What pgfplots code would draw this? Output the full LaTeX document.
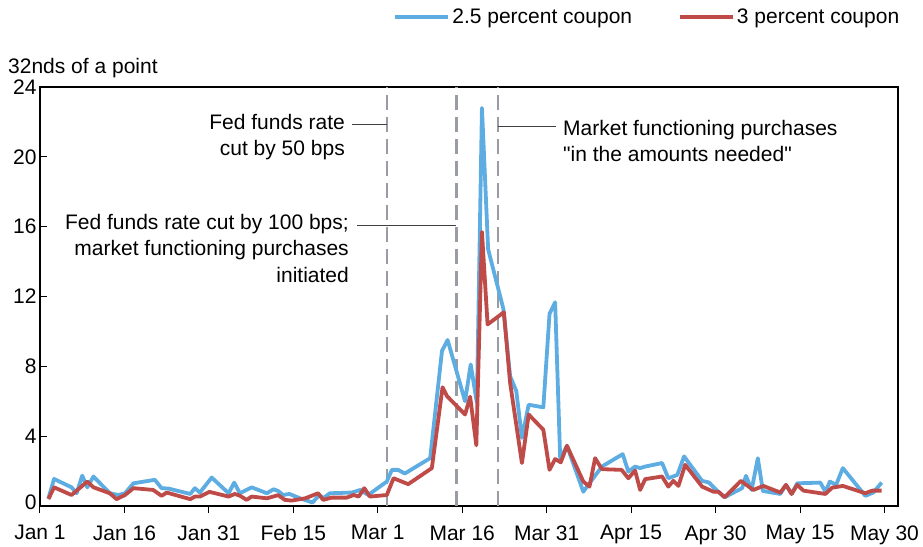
\documentclass[border=0pt]{standalone}
\usepackage{fontspec}
\setmainfont{Liberation Sans}[Ligatures=TeXOff]
\usepackage{pgfplots}
\usepackage{pgfplotstable}
\pgfplotsset{compat=1.18}
\definecolor{cpnblue}{HTML}{5DADE2}
\definecolor{cpnred}{HTML}{BE4B48}
\definecolor{evgray}{HTML}{9A9CA3}
\definecolor{leadgray}{HTML}{404040}

% day = days since Jan 1, v = 32nds of a point
\pgfplotstableread{
d v
1.5 0.44
2.5 1.55
5.6 1.07
6.5 0.73
7.5 1.74
8.4 1.07
9.5 1.69
12.4 0.73
13.9 0.63
15.1 0.73
16.6 1.30
20.4 1.50
21.6 1.02
22.8 1.00
26.7 0.69
27.5 1.02
28.4 0.77
30.5 1.63
33.5 0.73
34.5 1.34
35.5 0.73
37.6 1.07
40.3 0.73
41.5 0.96
42.3 0.86
43.2 0.63
44.3 0.69
46.2 0.44
48.4 0.20
49.6 0.62
50.3 0.45
51.5 0.73
55.4 0.77
56.9 0.92
58.3 0.63
61.6 1.40
62.5 2.07
63.6 2.07
64.8 1.86
69.3 2.74
71.4 8.88
72.4 9.51
75.5 6.00
76.5 8.11
77.6 5.90
78.5 22.80
79.6 14.70
82.3 11.30
83.5 7.44
84.6 6.58
85.6 3.90
86.8 5.80
89.4 5.65
90.5 11.00
91.5 11.67
92.4 2.70
93.6 3.45
96.5 0.82
97.6 1.30
99.8 2.26
103.5 2.97
104.5 1.97
105.7 2.26
106.6 2.17
107.5 2.26
110.5 2.46
111.6 1.59
113.2 1.78
114.4 2.84
117.6 1.44
118.8 1.35
120.2 0.90
121.6 0.50
124.7 1.02
125.4 1.73
126.4 0.92
127.5 2.74
128.4 0.86
131.5 0.69
132.5 1.21
133.5 0.69
134.5 1.30
138.6 1.34
139.5 0.82
140.3 1.40
141.4 1.21
142.6 2.17
146.6 0.58
148.0 0.77
149.5 1.34
}\bluetab

\pgfplotstableread{
d v
1.5 0.40
2.5 1.07
5.6 0.63
8.4 1.40
9.5 1.07
12.4 0.73
13.6 0.39
15.1 0.63
16.6 1.02
20.1 0.92
21.6 0.58
22.5 0.77
26.7 0.39
27.5 0.54
28.4 0.54
30.1 0.81
33.5 0.54
34.6 0.69
35.5 0.59
36.7 0.35
37.6 0.54
40.3 0.44
42.3 0.62
43.5 0.35
44.7 0.31
47.1 0.44
49.4 0.73
50.3 0.35
51.8 0.48
54.5 0.48
55.7 0.63
56.6 0.54
57.6 1.02
58.6 0.54
61.6 0.63
62.8 1.59
65.4 1.25
69.6 2.17
71.5 6.80
72.3 6.29
75.5 5.24
76.4 6.26
77.5 3.48
78.5 15.70
79.5 10.40
82.4 11.10
83.5 7.06
85.6 2.46
86.8 5.24
89.4 4.37
90.5 2.07
91.5 2.69
92.5 2.50
93.6 3.45
96.5 1.40
97.6 1.11
98.6 2.74
99.8 2.11
103.3 2.07
104.5 1.59
105.7 2.03
106.6 0.92
107.5 1.54
110.5 1.69
111.6 1.11
112.5 1.44
113.4 1.15
114.6 2.36
117.6 1.11
119.6 0.82
120.5 0.82
121.6 0.50
124.5 1.44
126.7 0.92
128.5 1.15
131.5 0.77
132.5 1.21
133.5 0.69
134.5 1.21
135.6 0.88
139.5 0.69
140.7 1.05
142.6 1.15
146.6 0.73
147.8 0.88
149.5 0.88
}\redtab

\begin{document}
\begin{tikzpicture}[font=\fontsize{21}{26.5}\selectfont]
\useasboundingbox (-40pt,-40pt) rectangle (883pt,506pt);
\begin{axis}[
  at={(0pt,0pt)}, anchor=south west,
  scale only axis, width=858pt, height=419pt,
  xmin=0, xmax=152.4, ymin=0, ymax=24,
  xtick={0,15,...,150},
  xticklabels={Jan 1,Jan 16,Jan 31,Feb 15,Mar 1,Mar 16,Mar 31,Apr 15,Apr 30,May 15,May 30},
  ytick={0,4,...,24},
  yticklabels={\raisebox{8pt}{0},4,8,12,16,20,\raisebox{-13pt}{24}},
  xtick pos=bottom, ytick pos=left,
  tick align=inside,
  major tick length=7pt,
  tick style={black, line width=1pt},
  x tick style={yshift=-7pt},
  xticklabel style={yshift=-16pt},
  axis line style={line width=1.6pt},
  legend style={draw=none, fill=none, legend columns=2,
    at={(1.004,1.167)}, anchor=east, inner sep=0pt,
    /tikz/every even column/.append style={column sep=44pt}},
  legend image code/.code={\draw[#1] (0pt,0pt) -- (53pt,0pt);},
]
\draw[evgray, line width=2.4pt, dash pattern=on 15pt off 7pt] (axis cs:61.6,0) -- (axis cs:61.6,24);
\draw[evgray, line width=2.4pt, dash pattern=on 15pt off 7pt] (axis cs:74.0,0) -- (axis cs:74.0,24);
\draw[evgray, line width=2.4pt, dash pattern=on 15pt off 7pt] (axis cs:81.3,0) -- (axis cs:81.3,24);
\addplot[cpnblue, line width=3.8pt, line join=round] table[x=d, y=v] {\bluetab};
\addplot[cpnred, line width=3.8pt, line join=round] table[x=d, y=v] {\redtab};
\legend{2.5 percent coupon, 3 percent coupon}
\end{axis}

% annotations (pt offsets from the lower left corner of the axis)
\node[anchor=west, inner sep=0pt] at (-32pt,438pt) {32nds of a point};

\node[anchor=east, align=right, inner sep=0pt] at (305pt,369pt) {Fed funds rate\\cut by 50 bps};
\draw[leadgray, line width=0.9pt] (312pt,382pt) -- (347pt,382pt);

\node[anchor=east, align=right, inner sep=0pt] at (309pt,258pt) {Fed funds rate cut by 100 bps;\\market functioning purchases\\initiated};
\draw[leadgray, line width=0.9pt] (317pt,280.5pt) -- (416pt,280.5pt);

\node[anchor=west, align=left, inner sep=0pt] at (523pt,365pt) {Market functioning purchases\\"in the amounts needed"};
\draw[leadgray, line width=0.9pt] (458pt,379.5pt) -- (516pt,379.5pt);
\end{tikzpicture}
\end{document}
